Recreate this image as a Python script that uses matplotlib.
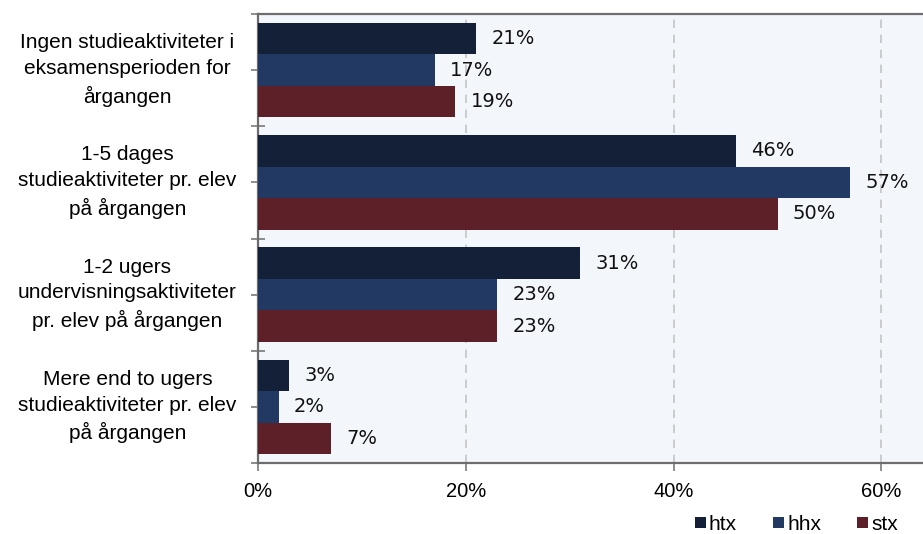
import numpy as np
import matplotlib.pyplot as plt
import matplotlib.transforms as mtransforms

categories = [
    "Ingen studieaktiviteter i\neksamensperioden for\nårgangen",
    "1-5 dages\nstudieaktiviteter pr. elev\npå årgangen",
    "1-2 ugers\nundervisningsaktiviteter\npr. elev på årgangen",
    "Mere end to ugers\nstudieaktiviteter pr. elev\npå årgangen",
]
series = ["htx", "hhx", "stx"]
htx = [21, 46, 31, 3]
hhx = [17, 57, 23, 2]
stx = [19, 50, 23, 7]
colors = ["#141f38", "#223a63", "#5e2028"]
xticks = [0, 20, 40, 60]

fig = plt.figure(figsize=(9.23, 5.34), dpi=100)
ax = fig.add_axes([258 / 923, 1 - 463 / 534, 1 - 258 / 923, (463 - 14) / 534])
ax.set_facecolor("#f3f7fb")

y = np.arange(len(categories))
h = 0.28
for k, (name, vals) in enumerate(zip(series, [htx, hhx, stx])):
    pos = y + (k - 1) * h
    ax.barh(pos, vals, height=h, color=colors[k], label=name, zorder=3)
    for p, v in zip(pos, vals):
        ax.annotate(f"{v}%", (v, p), xytext=(11, 0), textcoords="offset points",
                    va="center", ha="left", fontsize=14,
                    family="DejaVu Sans", color="#111111")

ax.set_xlim(0, 64)
ax.set_ylim(len(categories) - 0.5, -0.5)
ax.set_xticks(xticks)
ax.set_xticklabels([f"{t}%" for t in xticks], family="Liberation Sans", fontsize=14.5)
ax.tick_params(axis="x", length=6, width=1.2, color="#7a7a7a", pad=8)

ax.set_yticks(y)
ax.set_yticklabels(categories, family="Liberation Sans", fontsize=15,
                   ha="center", linespacing=1.45)
ax.set_yticks(np.arange(len(categories) + 1) - 0.5, minor=True)
ax.tick_params(axis="y", which="major", length=5, width=1.2, color="#7a7a7a", pad=89)
ax.tick_params(axis="y", which="minor", direction="inout", length=10,
               width=1.2, color="#7a7a7a")
# nudge category labels up a little
shift = mtransforms.ScaledTranslation(0, 0.06, fig.dpi_scale_trans)
for tick in ax.yaxis.get_major_ticks():
    tick.label1.set_transform(tick.label1.get_transform() + shift)

ax.xaxis.grid(True, linestyle=(0, (5, 4)), color="#c4c4c4", linewidth=1.2, zorder=0)
for t in ax.xaxis.get_gridlines()[:1]:
    t.set_visible(False)

for s in ["left", "bottom", "top"]:
    ax.spines[s].set_color("#6d6d6d")
    ax.spines[s].set_linewidth(1.6)
ax.spines["right"].set_visible(False)

fig.legend(loc="lower right", bbox_to_anchor=(0.993, -0.035), ncol=3, frameon=False,
           prop={"family": "Liberation Sans", "size": 15},
           handlelength=0.5, handleheight=0.5, handletextpad=0.15, columnspacing=1.75)

fig.savefig("out.png", dpi=100)
